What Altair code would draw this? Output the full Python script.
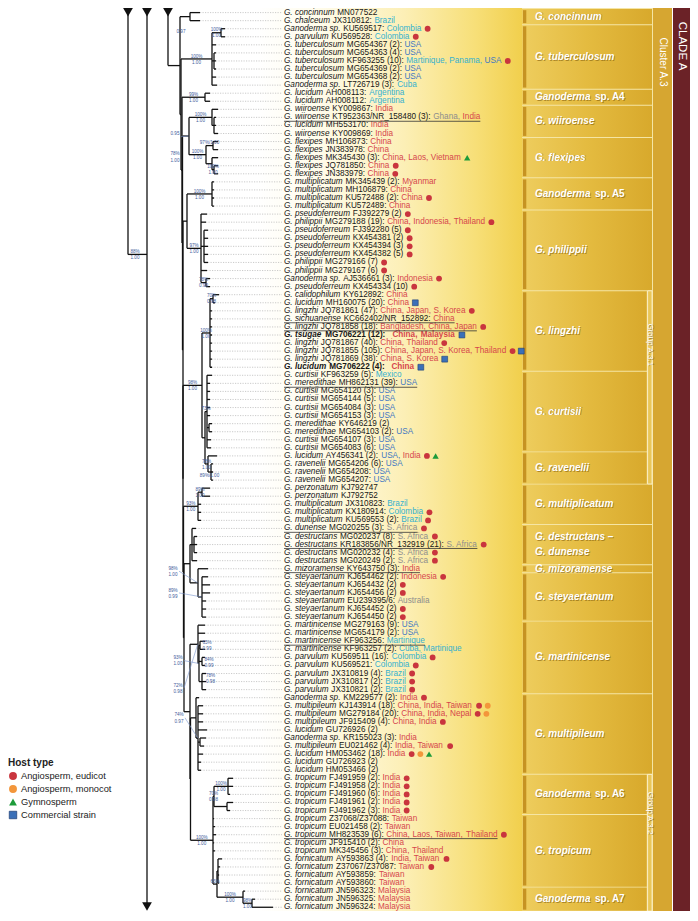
import altair as alt
import pandas as pd

# ===================== data =====================
SPECIES = (
    ["G. concinnum", "G. chalceum", "Ganoderma sp.", "G. parvulum"]
    + ["G. tuberculosum"] * 5
    + ["Ganoderma sp.", "G. lucidum", "G. lucidum"]
    + ["G. wiiroense", "G. wiiroense", "G. lucidum", "G. wiiroense"]
    + ["G. flexipes"] * 5
    + ["G. multiplicatum"] * 4
    + ["G. pseudoferreum", "G. philippii", "G. pseudoferreum", "G. pseudoferreum",
       "G. pseudoferreum", "G. pseudoferreum", "G. philippii", "G. philippii",
       "Ganoderma sp.", "G. pseudoferreum"]
    + ["G. calidophilum", "G. lucidum", "G. lingzhi", "G. sichuanense", "G. lingzhi",
       "G. tsugae", "G. lingzhi", "G. lingzhi", "G. lingzhi", "G. lucidum"]
    + ["G. curtisii", "G. meredithae", "G. curtisii", "G. curtisii", "G. curtisii",
       "G. curtisii", "G. meredithae", "G. meredithae", "G. curtisii", "G. curtisii"]
    + ["G. lucidum", "G. ravenelii", "G. ravenelii", "G. ravenelii"]
    + ["G. perzonatum", "G. perzonatum", "G. multiplicatum", "G. multiplicatum", "G. multiplicatum"]
    + ["G. dunense"] + ["G. destructans"] * 4
    + ["G. mizoramense"] + ["G. steyaertanum"] * 6
    + ["G. martinicense"] * 4 + ["G. parvulum"] * 5
    + ["Ganoderma sp.", "G. multipileum", "G. multipileum", "G. multipileum", "G. lucidum",
       "Ganoderma sp.", "G. multipileum", "G. lucidum", "G. lucidum", "G. lucidum"]
    + ["G. tropicum"] * 10 + ["G. fornicatum"] * 7
)

ACCESSION = [
    "MN077522", "JX310812:", "KU569517:", "KU569528:", "MG654367 (2):", "MG654363 (4):",
    "KF963255 (10):", "MG654369 (2):", "MG654368 (2):", "LT726719 (3):", "AH008113:", "AH008112:",
    "KY009867:", "KT952363/NR_158480 (3):", "MH553170:", "KY009869:", "MH106873:", "JN383978:",
    "MK345430 (3):", "JQ781850:", "JN383979:", "MK345439 (2):", "MH106879:", "KU572488 (2):",
    "KU572489:", "FJ392279 (2)", "MG279188 (19):", "FJ392280 (5)", "KX454381 (2)", "KX454394 (3)",
    "KX454382 (5)", "MG279166 (7)", "MG279167 (6)", "AJ536661 (3):", "KX454334 (10)", "KY612892:",
    "MH160075 (20):", "JQ781861 (47):", "KC662402/NR_152892:", "JQ781858 (18):", "MG706221 (12):",
    "JQ781867 (40):", "JQ781855 (105):", "JQ781869 (38):", "MG706222 (4):", "KF963259 (5):",
    "MH862131 (39):", "MG654120 (3):", "MG654144 (5):", "MG654084 (3):", "MG654153 (3):",
    "KY646219 (2)", "MG654103 (2):", "MG654107 (3):", "MG654083 (6):", "AY456341 (2):",
    "MG654206 (6):", "MG654208:", "MG654207:", "KJ792747", "KJ792752", "JX310823:", "KX180914:",
    "KU569553 (2):", "MG020255 (3):", "MG020237 (8):", "KR183856/NR_132919 (21):", "MG020232 (4):",
    "MG020249 (2):", "KY643750 (3):", "KJ654462 (2):", "KJ654432 (2)", "KJ654456 (2)", "EU239395/6:",
    "KJ654452 (2)", "KJ654450 (2)", "MG279163 (9):", "MG654179 (2):", "KF963256:", "KF963257 (2):",
    "KU569511 (16):", "KU569521:", "JX310819 (4):", "JX310817 (2):", "JX310821 (2):",
    "KM229577 (2):", "KJ143914 (18):", "MG279184 (20):", "JF915409 (4):", "GU726926 (2)",
    "KR155023 (3):", "EU021462 (4):", "HM053462 (18):", "GU726923 (2)", "HM053466 (2)",
    "FJ491959 (2):", "FJ491958 (2):", "FJ491960 (6):", "FJ491961 (2):", "FJ491962 (3):",
    "Z37068/Z37088:", "EU021458 (2):", "MH823539 (6):", "JF915410 (2):", "MK345456 (3):",
    "AY593863 (4):", "Z37067/Z37087:", "AY593859:", "AY593860:", "JN596323:", "JN596325:", "JN596324:",
]

COUNTRY = (
    ["", "Brazil", "Colombia", "Colombia", "USA", "USA", "Martinique, Panama, USA", "USA", "USA",
     "Cuba", "Argentina", "Argentina", "India", "Ghana, India", "India", "India", "China", "China",
     "China, Laos, Vietnam", "China", "China", "Myanmar", "China", "China", "China", "",
     "China, Indonesia, Thailand", "", "", "", "", "", "", "Indonesia", "",
     "China", "China", "China, Japan, S. Korea", "China", "Bangladesh, China, Japan", "China, Malaysia",
     "China, Thailand", "China, Japan, S. Korea, Thailand", "China, S. Korea", "China",
     "Mexico", "USA", "USA", "USA", "USA", "USA", "", "USA", "USA", "USA",
     "USA, India", "USA", "USA", "USA", "", "", "Brazil", "Colombia", "Brazil"]
    + ["S. Africa"] * 5
    + ["India", "Indonesia", "", "", "Australia", "", "",
       "USA", "USA", "Martinique", "Cuba, Martinique", "Colombia", "Colombia", "Brazil", "Brazil", "Brazil",
       "India", "China, India, Taiwan", "China, India, Nepal", "China, India", "", "India",
       "India, Taiwan", "India", "", ""]
    + ["India"] * 5
    + ["Taiwan", "Taiwan", "China, Laos, Taiwan, Thailand", "China", "China, Thailand",
       "India, Taiwan", "Taiwan", "Taiwan", "Taiwan", "Malaysia", "Malaysia", "Malaysia"]
)

# host codes: e = angiosperm eudicot, m = angiosperm monocot, g = gymnosperm, c = commercial strain
HOST = (
    ["", "", "e", "e", "", "", "e", "", "", "", "", "", "", "", "", "", "", "", "g", "e", "e",
     "", "", "e", "", "e", "e", "e", "e", "e", "e", "e", "e", "e", "e",
     "", "c", "e", "", "e", "c", "e", "ec", "c", "c"]
    + [""] * 10
    + ["eg", "", "", "", "", "", "", "e", "e"]
    + ["e"] * 5
    + ["", "e", "e", "e", "", "e", "e", "", "", "", ""]
    + ["e"] * 5
    + ["e", "em", "em", "e", "", "", "e", "emg", "", ""]
    + ["e"] * 5
    + ["", "", "e", "", "", "e", "e", "", "", "", "", ""]
)

UNDERLINED = [13, 38, 39, 46, 64, 66, 69, 78, 102]
BOLD = [40, 44]

REGION = {
    "India": "asia", "China": "asia", "Laos": "asia", "Vietnam": "asia", "Myanmar": "asia",
    "Indonesia": "asia", "Thailand": "asia", "Japan": "asia", "S. Korea": "asia",
    "Bangladesh": "asia", "Malaysia": "asia", "Taiwan": "asia", "Nepal": "asia",
    "Brazil": "latam", "Colombia": "latam", "Martinique": "latam", "Panama": "latam",
    "Cuba": "latam", "Argentina": "latam", "Mexico": "latam",
    "USA": "usa", "Ghana": "other", "S. Africa": "other", "Australia": "other",
}

# tree: "(children)node:depth", leaves are row numbers; depth
T_CONC = "(0:72,1:72)conc:62"
T_TUB = "((2:97,3:97)p23:93,4:88,(5:88,6:88,7:88)t3:86,8:88,9:89)tub:84"
T_A4 = "(10:82,11:82)A4:77"
T_WF = ("((12:90,(13:88,14:88,15:90)w3:86)wiiro:84,"
        "((16:90,17:90)f1617:85,(18:90,(19:90,20:90)f1920:86)f18:84)flex:78)wf:61")
T_AP = ("((21:86,22:86,23:86,24:86)A5:84,"
        "(25:79,26:78,(27:80,28:80,29:80,30:80,31:80)ph5:76,32:79,(33:82,34:82)p3334:78)phil:73)ap:59")
T_A31 = ("(((35:91,36:87)l3536:85,37:84,38:84,39:84,40:84,41:84,42:84,43:84,44:84)ling:82,"
         "((45:84,46:82,47:82,48:82,49:82,50:82,(51:84,52:84)c2:81,53:83,54:83)curt:79,"
         "(55:89,(56:85,57:85,58:85)rav3:83)rav:80)currav:77)A31:74")
T_MUL = "((59:82,60:82)perz:74,61:73,62:73,63:73)mul:70"
T_N7B = ("((64:68,(65:69,66:69,67:69)d3:66,68:69)destr:64,"
         "(69:80,(70:80,71:82,72:82,73:78,74:78,75:78)stey:74)mizstey:70)N7b:62")
T_M = "(76:77,77:77,((78:77,79:77)P1:72,(80:77,81:77)P2:74,(82:78,83:78,84:78)P3:74)M2:71)M:70"
T_MP = "(85:71,(86:75,87:75,88:75,89:79,(90:78,91:76)mp2:72,92:75,93:73,94:73)MP2:70)MP:68"
T_A32 = ("(((95:105,96:105,97:102)A6a:100,(98:105,99:102)A6b:99)A6:86,100:86,101:87,102:88,103:86,104:87,"
         "((105:94,106:92,107:91,108:91)F1:90,(109:117,(110:127,111:145)A7in:124)A7:115)F:89)A32:85")
TREE = (f"({T_CONC},({T_TUB},({T_A4},({T_WF},({T_AP},({T_A31},({T_MUL},({T_N7B},({T_M},({T_MP},{T_A32})"
        f"N9:62.5)N8:62)N7:56)N6:55.5)N5:55)N4:55)N3:54.5)N2:54)N1:53)N0:52")
ARROW_X = [0, 19, 40]          # depth of the truncated deeper branches
ARROW_JOIN_Y = 30.0            # row where the deepest branch joins
BOTTOM_ARROW_Y = 110.9

SUP_NODE = ["p23", "tub", "A4", "N0", "wiiro", "f1617", "flex", "f1920", "wf", "N3", "A5", "phil",
            "p3334", "root", "l3536", "ling", "A31", "curt", "rav", "rav3", "perz", "mul", "mizstey",
            "stey", "P1", "P2", "P3", "M2", "M", "MP2", "A6a", "A6", "A32", "F", "A7", "A7in"]
SUP_TOP = ["100%", "100%", "99%", "0.97", "100%", "97%/1.00", "100%", "100%", "0.95", "78%", "100%", "97%",
           "78%", "88%", "70%", "100%", "98%", "73%", "78%", "", "89%", "93%", "98%",
           "89%", "65%", "84%", "78%", "93%", "72%", "74%", "100%", "70%", "100%", "66%", "100%", "98%"]
SUP_BOT = ["1.00", "1.00", "1.00", "", "1.00", "", "1.00", "1.00", "", "1.00", "1.00", "1.00",
           "0.99", "1.00", "0.98", "1.00", "1.00", "", "1.00", "89%/1.00", "1.00", "1.00", "1.00",
           "0.99", "0.99", "0.99", "0.98", "1.00", "0.98", "0.97", "1.00", "0.98", "1.00", "", "1.00", "1.00"]

CLADE_IT = ["G. concinnum", "G. tuberculosum", "Ganoderma", "G. wiiroense", "G. flexipes", "Ganoderma",
            "G. philippii", "G. lingzhi", "G. curtisii", "G. ravenelii", "G. multiplicatum",
            "G. destructans –|G. dunense", "G. mizoramense", "G. steyaertanum", "G. martinicense",
            "G. multipileum", "Ganoderma", "G. tropicum", "Ganoderma"]
CLADE_RM = ["", "", "sp. A4", "", "", "sp. A5", "", "", "", "", "", "", "", "", "", "", "sp. A6", "", "sp. A7"]
CLADE_FIRST = [0, 2, 10, 12, 16, 21, 25, 35, 45, 55, 59, 64, 69, 70, 76, 85, 95, 100, 109]
CLADE_LAST = [1, 9, 11, 15, 20, 24, 34, 44, 54, 58, 63, 68, 69, 75, 84, 94, 99, 108, 111]
GROUP_NAME = ["Group A.3.1", "Group A.3.2"]
GROUP_FIRST = [35, 95]
GROUP_LAST = [58, 111]
CLUSTER_NAME = "Cluster A.3"
CLADE_NAME = "CLADE A"
LEGEND_TITLE = "Host type"
LEGEND_CODE = ["e", "m", "g", "c"]
LEGEND_LABEL = ["Angiosperm, eudicot", "Angiosperm, monocot", "Gymnosperm", "Commercial strain"]

for arr in (SPECIES, ACCESSION, COUNTRY, HOST):
    assert len(arr) == 112, len(arr)

# ===================== styles & layout =====================
FONT = "Liberation Sans"
F = 8.2
W, H = 682, 903
SP = 8.06
Y_LO = -4.6 / SP
Y_HI = Y_LO + H / SP
LABEL_DEPTH = 154
TEXT_COL = {"asia": "#d6464c", "latam": "#35b1cf", "usa": "#4378c2", "other": "#8d8d8d"}
MARK_COL = {"e": "#c9353e", "m": "#f3963b", "g": "#1d9b3a", "c": "#3b70b8"}
SUP_COL = "#3e5b9b"
LABEL_POS = {"N0": (53, 2.7), "wf": (47, 15.4), "N3": (47, 17.9), "root": (7, 30.0),
             "mizstey": (45, 69.3), "stey": (45, 72.0), "M2": (50, 80.4), "M": (50, 83.8),
             "MP2": (51, 87.5), "P1": (79, 78.5), "P2": (81, 80.6), "P3": (82.5, 82.6)}
LEADERS = {"wf", "mizstey", "stey", "M2", "M", "MP2"}
TOP = -0.05

SC_TREE = alt.Scale(domain=[0, 160], range=[120, 280], nice=False, zero=False)
SC_TXT = alt.Scale(domain=[0, 400], range=[276, 676], nice=False, zero=False)
SC_PX = alt.Scale(domain=[0, W], range=[0, W], nice=False, zero=False)
SC_PY = alt.Scale(domain=[0, H], range=[0, H], nice=False, zero=False)
SC_LEAF = alt.Scale(domain=[Y_LO, Y_HI], range=[0, H], nice=False, zero=False)


def X(f, sc):
    return alt.X(f"{f}:Q", scale=sc, axis=None)


def Y(f, sc):
    return alt.Y(f"{f}:Q", scale=sc, axis=None)


# ---- Arial / Liberation Sans advance widths (1/1000 em) ----
AW = {" ": 278, "!": 278, "%": 889, "(": 333, ")": 333, ",": 278, "-": 333, ".": 278, "/": 278,
      ":": 278, "_": 556, "–": 556}
for d in "0123456789":
    AW[d] = 556
AW.update(dict(zip("ABCDEFGHIJKLMNOPQRSTUVWXYZ",
                   [667, 667, 722, 722, 667, 611, 778, 722, 278, 500, 667, 556, 833, 722, 778, 667,
                    778, 722, 667, 611, 722, 667, 944, 667, 667, 611])))
AW.update(dict(zip("abcdefghijklmnopqrstuvwxyz",
                   [556, 556, 500, 556, 556, 278, 556, 556, 222, 222, 500, 222, 833, 556, 556, 556,
                    556, 333, 500, 278, 556, 500, 722, 500, 500, 500])))


def tw(s, size=F, bold=False):
    return sum(AW.get(c, 556) for c in s) / 1000 * size * (1.08 if bold else 1.0)


# ===================== tree layout =====================
def parse_tree(s):
    s = s.replace(" ", "")
    pos = 0

    def read():
        nonlocal pos
        kids = []
        if s[pos] == "(":
            pos += 1
            while True:
                kids.append(read())
                ch = s[pos]
                pos += 1
                if ch == ")":
                    break
        j = pos
        while j < len(s) and s[j] not in ",)":
            j += 1
        name, depth = s[pos:j].split(":")
        pos = j
        return {"name": name, "x": float(depth), "kids": kids}

    return read()


root = parse_tree(TREE)
NODES = {}
SEGS = []


def lay(n, parent_x):
    n["px"] = parent_x
    if not n["kids"]:
        n["y"] = float(int(n["name"]))
    else:
        for k in n["kids"]:
            lay(k, n["x"])
        n["y"] = (n["kids"][0]["y"] + n["kids"][-1]["y"]) / 2
        SEGS.append(dict(x=n["x"], x2=n["x"], y=n["kids"][0]["y"], y2=n["kids"][-1]["y"]))
    SEGS.append(dict(x=parent_x, x2=n["x"], y=n["y"], y2=n["y"]))
    NODES[n["name"]] = n


lay(root, ARROW_X[2])
SEGS += [
    dict(x=ARROW_X[0], x2=ARROW_X[0], y=TOP, y2=ARROW_JOIN_Y),
    dict(x=ARROW_X[0], x2=ARROW_X[1], y=ARROW_JOIN_Y, y2=ARROW_JOIN_Y),
    dict(x=ARROW_X[1], x2=ARROW_X[1], y=TOP, y2=BOTTOM_ARROW_Y),
    dict(x=ARROW_X[2], x2=ARROW_X[2], y=TOP, y2=root["y"]),
]
seg_df = pd.DataFrame(SEGS)
dots_df = pd.DataFrame([dict(x=NODES[str(i)]["x"], x2=LABEL_DEPTH, y=i) for i in range(112)])
tri_df = pd.DataFrame([dict(x=a, y=TOP) for a in ARROW_X] + [dict(x=ARROW_X[1], y=BOTTOM_ARROW_Y)])

sup_rows, lead_rows = [], []
for name, top, bot in zip(SUP_NODE, SUP_TOP, SUP_BOT):
    if name in LABEL_POS:
        lx, ly = LABEL_POS[name]
    else:
        n = NODES[name]
        lx, ly = (n["px"] + n["x"]) / 2, n["y"]
    sup_rows.append(dict(x=lx, y=ly, top=top, bot=bot))
    if name in LEADERS:
        n = NODES[name]
        lead_rows.append(dict(x=lx + 6, x2=n["x"] - 0.3, y=ly, y2=n["y"]))
sup_df = pd.DataFrame(sup_rows)
lead_df = pd.DataFrame(lead_rows)

# ===================== leaf labels =====================
txt_rows, und_rows, mk_rows = [], [], []
for i in range(112):
    b = i in BOLD
    off = 0.0
    txt_rows.append(dict(y=i, x=off, t=SPECIES[i], it=True, b=b, c="#161616"))
    off += tw(SPECIES[i] + " ", bold=b) + 0.4
    txt_rows.append(dict(y=i, x=off, t=ACCESSION[i], it=False, b=b, c="#161616"))
    off += tw(ACCESSION[i], bold=b)
    if COUNTRY[i]:
        off += tw(" ", bold=b) + 0.2
        parts = COUNTRY[i].split(", ")
        for k, p in enumerate(parts):
            last = k == len(parts) - 1
            t = p if last else p + ","
            txt_rows.append(dict(y=i, x=off, t=t, it=False, b=b, c=TEXT_COL[REGION[p]]))
            off += tw(t + ("" if last else " "), bold=b) + (0 if last else 0.2)
    if i in UNDERLINED:
        und_rows.append(dict(x=0, x2=off, y=i))
    for k, code in enumerate(HOST[i]):
        mk_rows.append(dict(x=off + 6.3 + 8.7 * k, y=i, code=code, c=MARK_COL[code]))
txt_df = pd.DataFrame(txt_rows)
und_df = pd.DataFrame(und_rows)
mk_df = pd.DataFrame(mk_rows)

# ===================== right-hand clade boxes =====================
BOX_L, BOX_R, BOX_RG = 514, 644, 638.8
BOX_TX = 527
in_group = lambda f: any(a <= f <= b for a, b in zip(GROUP_FIRST, GROUP_LAST))
box_rows, stripe_rows, blab_rows = [], [], []
for it, rm, f0, f1 in zip(CLADE_IT, CLADE_RM, CLADE_FIRST, CLADE_LAST):
    box_rows.append(dict(x=BOX_L, x2=BOX_RG if in_group(f0) else BOX_R, y=f0 - 0.44, y2=f1 + 0.44))
    stripe_rows.append(dict(x=BOX_L + 1, x2=BOX_L + 4.3, y=f0 - 0.3, y2=f1 + 0.3))
    lines = it.split("|")
    yc = (f0 + f1) / 2
    for li, line in enumerate(lines):
        yy = yc + (li - (len(lines) - 1) / 2) * 1.85
        blab_rows.append(dict(x=BOX_TX, y=yy, t=line, it=True))
    if rm:
        blab_rows.append(dict(x=BOX_TX + tw(it + " ", 10, True), y=yc, t=rm, it=False))
box_df = pd.DataFrame(box_rows)
stripe_df = pd.DataFrame(stripe_rows)
blab_df = pd.DataFrame(blab_rows)
grp_df = pd.DataFrame([dict(x=639.6, x2=644, y=a - 0.48, y2=b + 0.48) for a, b in zip(GROUP_FIRST, GROUP_LAST)])
glab_df = pd.DataFrame([dict(x=642, y=a + (b - a) * 0.27, t=n)
                        for n, a, b in zip(GROUP_NAME, GROUP_FIRST, GROUP_LAST)])


def hgrad(stops):
    return alt.Gradient(gradient="linear", x1=0, x2=1, y1=0, y2=0,
                        stops=[alt.GradientStop(color=c, offset=o) for o, c in stops])


def rect_px(rows, **mk):
    return alt.Chart(pd.DataFrame(rows)).mark_rect(**mk).encode(
        x=X("x", SC_PX), x2="x2:Q", y=Y("y", SC_PY), y2="y2:Q")


def rect_leaf(df, **mk):
    return alt.Chart(df).mark_rect(**mk).encode(
        x=X("x", SC_PX), x2="x2:Q", y=Y("y", SC_LEAF), y2="y2:Q")


layers = []
layers.append(rect_px([dict(x=250, x2=BOX_L + 1, y=0, y2=H)],
                      color=hgrad([(0, "#ffffff"), (0.22, "#fffcec"), (0.55, "#fcefb6"),
                                   (0.82, "#f7df78"), (1, "#f1cf4c")])))
layers.append(rect_px([dict(x=BOX_L, x2=BOX_R + 1, y=0, y2=H)], color="#f5e5a4"))
layers.append(rect_leaf(box_df, color=hgrad([(0, "#eecd5e"), (0.5, "#e4bb40"), (1, "#d8a92c")])))
layers.append(rect_leaf(stripe_df, color="#c69322"))
layers.append(rect_px([dict(x=BOX_R + 1, x2=664, y=0, y2=H)], color="#d6a631"))
layers.append(rect_px([dict(x=665, x2=W, y=0, y2=H)], color="#6b2227"))
layers.append(rect_leaf(grp_df, color="#e9c659", stroke="#fbf1d2", strokeWidth=0.8))

# tree
layers.append(alt.Chart(dots_df).mark_rule(color="#b4b4b4", strokeWidth=0.7, strokeDash=[1.2, 1.3]).encode(
    x=X("x", SC_TREE), x2="x2:Q", y=Y("y", SC_LEAF)))
layers.append(alt.Chart(seg_df).mark_rule(color="#111111", strokeWidth=1.3).encode(
    x=X("x", SC_TREE), x2="x2:Q", y=Y("y", SC_LEAF), y2="y2:Q"))
layers.append(alt.Chart(tri_df).mark_point(shape="triangle-down", filled=True, size=95, color="#111111",
                                           opacity=1).encode(x=X("x", SC_TREE), y=Y("y", SC_LEAF)))
layers.append(alt.Chart(lead_df).mark_rule(color="#7b96cc", strokeWidth=0.6).encode(
    x=X("x", SC_TREE), x2="x2:Q", y=Y("y", SC_LEAF), y2="y2:Q"))
layers.append(alt.Chart(sup_df).mark_text(font=FONT, fontSize=4.6, color=SUP_COL, baseline="bottom",
                                          align="center", dy=-0.4).encode(
    x=X("x", SC_TREE), y=Y("y", SC_LEAF), text="top:N"))
layers.append(alt.Chart(sup_df).mark_text(font=FONT, fontSize=4.6, color=SUP_COL, baseline="top",
                                          align="center", dy=0.7).encode(
    x=X("x", SC_TREE), y=Y("y", SC_LEAF), text="bot:N"))

# leaf labels
for it in (True, False):
    for b in (False, True):
        sub = txt_df[(txt_df.it == it) & (txt_df.b == b)]
        if len(sub) == 0:
            continue
        layers.append(alt.Chart(sub).mark_text(
            font=FONT, fontSize=F, align="left", baseline="middle",
            fontStyle="italic" if it else "normal", fontWeight="bold" if b else "normal").encode(
            x=X("x", SC_TXT), y=Y("y", SC_LEAF), text="t:N", color=alt.Color("c:N", scale=None)))
layers.append(alt.Chart(und_df).mark_rule(color="#333333", strokeWidth=0.8, yOffset=3.9).encode(
    x=X("x", SC_TXT), x2="x2:Q", y=Y("y", SC_LEAF)))
layers.append(alt.Chart(mk_df[mk_df.code.isin(["e", "m"])]).mark_point(
    shape="circle", filled=True, size=34, opacity=1).encode(
    x=X("x", SC_TXT), y=Y("y", SC_LEAF), color=alt.Color("c:N", scale=None)))
layers.append(alt.Chart(mk_df[mk_df.code == "g"]).mark_point(
    shape="triangle-up", filled=True, size=40, opacity=1, color=MARK_COL["g"]).encode(
    x=X("x", SC_TXT), y=Y("y", SC_LEAF)))
layers.append(alt.Chart(mk_df[mk_df.code == "c"]).mark_point(
    shape="square", filled=True, size=34, opacity=1, color=MARK_COL["c"], stroke="#1e3c73",
    strokeWidth=0.6).encode(x=X("x", SC_TXT), y=Y("y", SC_LEAF)))

# clade box labels
for it in (True, False):
    sub = blab_df[blab_df.it == it]
    for shadow in (True, False):
        layers.append(alt.Chart(sub).mark_text(
            font=FONT, fontSize=10, fontWeight="bold", fontStyle="italic" if it else "normal",
            align="left", baseline="middle", color="#7a5708" if shadow else "#ffffff",
            opacity=0.55 if shadow else 1, dx=0.8 if shadow else 0, dy=0.8 if shadow else 0).encode(
            x=X("x", SC_PX), y=Y("y", SC_LEAF), text="t:N"))
for shadow in (True, False):
    layers.append(alt.Chart(glab_df).mark_text(
        font=FONT, fontSize=8, angle=90, align="center", baseline="middle",
        color="#6e4e08" if shadow else "#ffffff", opacity=0.6 if shadow else 1,
        dx=0.7 if shadow else 0, dy=-0.7 if shadow else 0).encode(
        x=X("x", SC_PX), y=Y("y", SC_LEAF), text="t:N"))
layers.append(alt.Chart(pd.DataFrame([dict(x=655, y=54, t=CLUSTER_NAME)])).mark_text(
    font=FONT, fontSize=10, angle=90, align="center", baseline="middle", color="#ffffff").encode(
    x=X("x", SC_PX), y=Y("y", SC_PY), text="t:N"))
layers.append(alt.Chart(pd.DataFrame([dict(x=673.5, y=38, t=CLADE_NAME)])).mark_text(
    font=FONT, fontSize=11.5, angle=90, align="center", baseline="middle", color="#ffffff").encode(
    x=X("x", SC_PX), y=Y("y", SC_PY), text="t:N"))

# host legend
LEG_Y0 = 755
leg_df = pd.DataFrame([dict(x=5, tx=13, y=LEG_Y0 + 13 * (k + 1), code=c, c=MARK_COL[c], t=t)
                       for k, (c, t) in enumerate(zip(LEGEND_CODE, LEGEND_LABEL))])
layers.append(alt.Chart(pd.DataFrame([dict(x=0, y=LEG_Y0, t=LEGEND_TITLE)])).mark_text(
    font=FONT, fontSize=10, fontWeight="bold", align="left", baseline="middle", color="#222222").encode(
    x=X("x", SC_PX), y=Y("y", SC_PY), text="t:N"))
layers.append(alt.Chart(leg_df).mark_text(
    font=FONT, fontSize=9.3, align="left", baseline="middle", color="#222222").encode(
    x=X("tx", SC_PX), y=Y("y", SC_PY), text="t:N"))
layers.append(alt.Chart(leg_df[leg_df.code.isin(["e", "m"])]).mark_point(
    shape="circle", filled=True, size=62, opacity=1).encode(
    x=X("x", SC_PX), y=Y("y", SC_PY), color=alt.Color("c:N", scale=None)))
layers.append(alt.Chart(leg_df[leg_df.code == "g"]).mark_point(
    shape="triangle-up", filled=True, size=62, opacity=1, color=MARK_COL["g"]).encode(
    x=X("x", SC_PX), y=Y("y", SC_PY)))
layers.append(alt.Chart(leg_df[leg_df.code == "c"]).mark_point(
    shape="square", filled=True, size=56, opacity=1, color=MARK_COL["c"], stroke="#1e3c73",
    strokeWidth=0.7).encode(x=X("x", SC_PX), y=Y("y", SC_PY)))

chart = (
    alt.layer(*layers)
    .resolve_scale(x="independent", y="independent")
    .properties(width=W, height=H, padding=0, autosize=alt.AutoSizeParams(type="none"),
                background="#ffffff")
    .configure_view(stroke=None)
)
chart.save("out.html", embed_options={"renderer": "svg", "actions": False})
